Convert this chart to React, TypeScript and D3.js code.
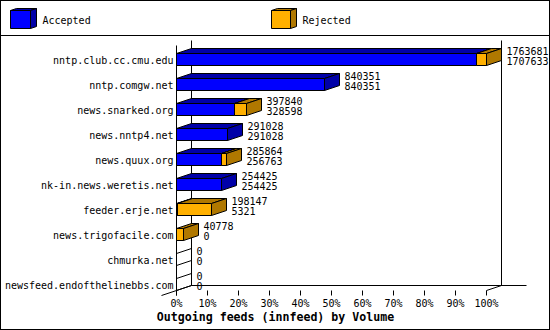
import React from "react";
import * as d3 from "d3";

const categories = [
  "nntp.club.cc.cmu.edu",
  "nntp.comgw.net",
  "news.snarked.org",
  "news.nntp4.net",
  "news.quux.org",
  "nk-in.news.weretis.net",
  "feeder.erje.net",
  "news.trigofacile.com",
  "chmurka.net",
  "newsfeed.endofthelinebbs.com",
];
const totals = [1763681, 840351, 397840, 291028, 285864, 254425, 198147, 40778, 0, 0];
const accepted = [1707633, 840351, 328598, 291028, 256763, 254425, 5321, 0, 0, 0];
const xTicks = [0, 10, 20, 30, 40, 50, 60, 70, 80, 90, 100];
const legendItems = ["Accepted", "Rejected"];
const title = "Outgoing feeds (innfeed) by Volume";

const W = 550;
const H = 330;
const DX = 15;
const DY = 5;
const MONO = "'DejaVu Sans Mono', 'Liberation Mono', monospace";
const COLORS = {
  acc: { front: "#0000ff", dark: "#0000a8" },
  rej: { front: "#ffb000", dark: "#b07800" },
};

function boxPolys(x0: number, x1: number, yt: number, yb: number, dx: number, dy: number) {
  const pts = (a: number[][]) => a.map((p) => p.join(",")).join(" ");
  return {
    front: pts([[x0, yt], [x1, yt], [x1, yb], [x0, yb]]),
    top: pts([[x0, yt], [x1, yt], [x1 + dx, yt - dy], [x0 + dx, yt - dy]]),
    right: pts([[x1, yt], [x1 + dx, yt - dy], [x1 + dx, yb - dy], [x1, yb]]),
  };
}

function Box({ x0, x1, yt, yb, dx, dy, c }: any) {
  const p = boxPolys(x0, x1, yt, yb, dx, dy);
  return (
    <g stroke="#000" strokeWidth={1} strokeLinejoin="miter">
      <polygon points={p.front} fill={c.front} />
      <polygon points={p.top} fill={c.dark} />
      <polygon points={p.right} fill={c.dark} />
    </g>
  );
}

export default function App() {
  const max = d3.max(totals) as number;
  const x = d3.scaleLinear().domain([0, 100]).range([176, 486]);
  const y = d3.scaleBand<string>().domain(categories).range([40, 290]);
  const pct = (v: number) => (v / max) * 100;
  const x0 = x(0);
  const x100 = x(100);
  const yBottom = 290;
  const yTop = 40;

  return (
    <svg
      width={W}
      height={H}
      viewBox={`0 0 ${W} ${H}`}
      style={{ position: "absolute", left: 0, top: 0, background: "#fff" }}
    >
      <g transform="translate(0.5,0.5)">
        <rect x={0} y={0} width={W - 1} height={H - 1} fill="#fff" stroke="#000" />
        <line x1={0} x2={W - 1} y1={35} y2={35} stroke="#000" />

        {/* legend */}
        {legendItems.map((name, i) => {
          const lx = i === 0 ? 10 : 271;
          const lw = i === 0 ? 20 : 19;
          const c = i === 0 ? COLORS.acc : COLORS.rej;
          return (
            <g key={name}>
              <Box x0={lx} x1={lx + lw} yt={10} yb={28} dx={6} dy={2} c={c} />
              <text
                x={lx + lw + 12}
                y={23}
                fontFamily={MONO}
                fontSize={10}
                fill="#000"
              >
                {name}
              </text>
            </g>
          );
        })}

        {/* walls */}
        <g stroke="#000" fill="none">
          <line x1={x0 + DX} x2={x0 + DX} y1={yTop} y2={yBottom - DY} />
          <line x1={x100 + DX} x2={x100 + DX} y1={yTop} y2={yBottom - DY} />
          <line x1={x0 + DX} x2={x100 + DX + 25} y1={yBottom - DY} y2={yBottom - DY} />
          <line x1={x0} x2={x0} y1={yTop + DY} y2={yBottom + 5} />
          <line x1={x0 - DX} x2={x0 + DX} y1={yBottom + DY} y2={yBottom - DY} />
          <line x1={x100} x2={x100 + DX} y1={yBottom} y2={yBottom - DY} />
          {xTicks.map((t) => (
            <line key={t} x1={Math.round(x(t))} x2={Math.round(x(t))} y1={yBottom} y2={yBottom + 5} />
          ))}
        </g>

        {/* bars */}
        {categories.map((cat, i) => {
          const band = y(cat) as number;
          const yt = band + 13;
          const yb = band + 25;
          const xa = Math.round(x(pct(accepted[i])));
          const xt = Math.round(x(pct(totals[i])));
          return (
            <g key={cat}>
              {totals[i] === 0 ? (
                <g stroke="#000">
                  <line x1={x0} y1={yt} x2={x0 + DX} y2={yt - DY} />
                  <line x1={x0} y1={yb} x2={x0 + DX} y2={yb - DY} />
                  <line x1={x0 + DX} y1={yt - DY} x2={x0 + DX} y2={yb - DY} />
                </g>
              ) : (
                <>
                  {accepted[i] > 0 && (
                    <Box x0={x0} x1={xa} yt={yt} yb={yb} dx={DX} dy={DY} c={COLORS.acc} />
                  )}
                  {totals[i] > accepted[i] && (
                    <Box x0={xa} x1={xt} yt={yt} yb={yb} dx={DX} dy={DY} c={COLORS.rej} />
                  )}
                </>
              )}
              <text
                x={173}
                y={band + 23}
                textAnchor="end"
                fontFamily={MONO}
                fontSize={10}
                fill="#000"
              >
                {cat}
              </text>
              <text x={xt + DX + 5} y={band + 14} fontFamily={MONO} fontSize={10} fill="#000">
                {totals[i]}
              </text>
              <text x={xt + DX + 5} y={band + 24} fontFamily={MONO} fontSize={10} fill="#000">
                {accepted[i]}
              </text>
            </g>
          );
        })}

        {/* tick labels */}
        {xTicks.map((t) => (
          <text
            key={t}
            x={x(t)}
            y={306}
            textAnchor="middle"
            fontFamily={MONO}
            fontSize={10}
            fill="#000"
          >
            {`${t}%`}
          </text>
        ))}

        <text
          x={275}
          y={320}
          textAnchor="middle"
          fontFamily={MONO}
          fontSize={11.6}
          fontWeight="bold"
          fill="#000"
        >
          {title}
        </text>
      </g>
    </svg>
  );
}
